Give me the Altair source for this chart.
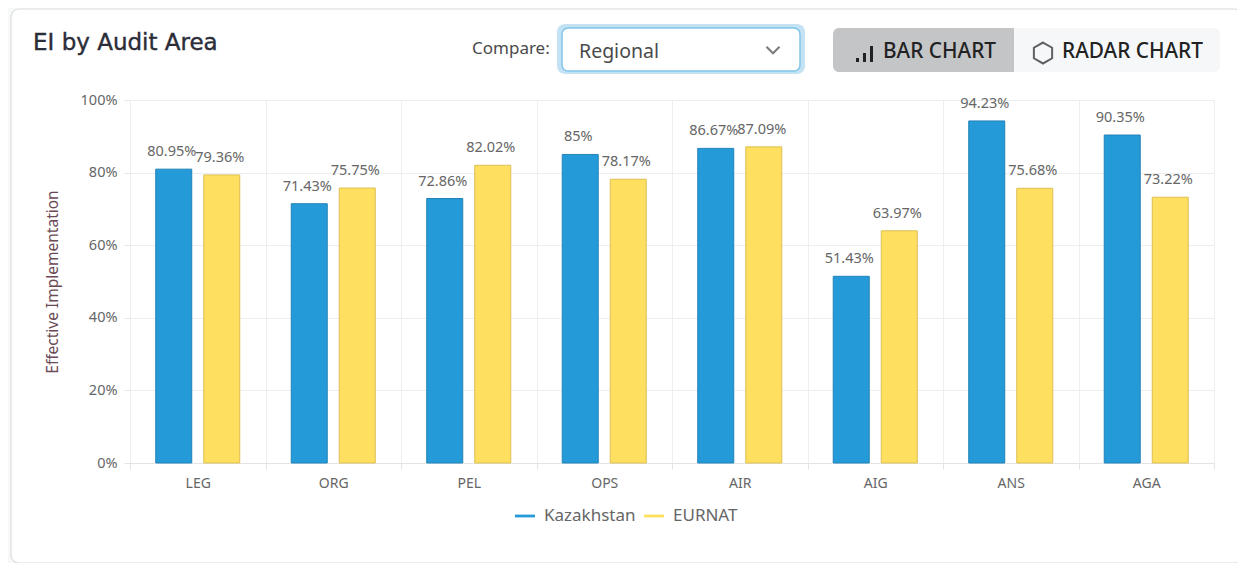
import altair as alt
import pandas as pd

areas = ["LEG", "ORG", "PEL", "OPS", "AIR", "AIG", "ANS", "AGA"]
kazakhstan = [80.95, 71.43, 72.86, 85, 86.67, 51.43, 94.23, 90.35]
eurnat = [79.36, 75.75, 82.02, 78.17, 87.09, 63.97, 75.68, 73.22]
series = ["Kazakhstan", "EURNAT"]
colors = ["#259ad8", "#fedf5f"]
borders = ["#2283b8", "#dcbf55"]

rows = [{"area": a, "series": series[0], "value": v} for a, v in zip(areas, kazakhstan)] + \
       [{"area": a, "series": series[1], "value": v} for a, v in zip(areas, eurnat)]
df = pd.DataFrame(rows)

FONT = "Noto Sans"
OX, OY = 130, 100  # plot origin in page pixels
W, H = 1084, 363
TOTAL_W, TOTAL_H = 1229, 555
PAD_L, PAD_T = OX - 8, OY - 8
one = alt.Data(values=[{"k": 1}])


def box(x1, y1, x2, y2, **kw):
    return alt.Chart(one).mark_rect(**kw).encode(
        x=alt.value(x1 - OX), x2=alt.value(x2 - OX),
        y=alt.value(y1 - OY), y2=alt.value(y2 - OY))


def label(text, x, y, **kw):
    base = dict(font=FONT, align="left", baseline="middle", text=text)
    base.update(kw)
    return alt.Chart(one).mark_text(**base).encode(x=alt.value(x - OX), y=alt.value(y - OY))


def glyph(path, x, y, size, **kw):
    return alt.Chart(one).mark_point(shape=path, size=size, **kw).encode(
        x=alt.value(x - OX), y=alt.value(y - OY))


chrome = [
    box(-9, -11, 1262, 583, fillOpacity=0, stroke="#f7f8f8", strokeWidth=40, cornerRadius=28),
    box(11, 9, 1242, 563, fillOpacity=0, stroke="#dcdcdc", strokeWidth=1.2, cornerRadius=8),
    label("EI by Audit Area", 33, 43, font="DejaVu Sans", fontSize=23, color="#2b2d38",
          stroke="#2b2d38", strokeWidth=0.4),
    label("Compare:", 472, 49, fontSize=17, color="#4a4a4a"),
    box(557, 24, 805, 74, fill="#c3e3f5", cornerRadius=8),
    box(562, 28, 800, 71, fill="#ffffff", stroke="#82c5ea", strokeWidth=1.5, cornerRadius=6),
    label("Regional", 579, 52, fontSize=19.5, color="#4a4a4a"),
    glyph("M-1,-0.5L0,0.5L1,-0.5", 773, 50, 170, filled=False, stroke="#444444", strokeWidth=2),
    box(833, 28, 1014, 72, fill="#c4c5c7", cornerRadiusTopLeft=6, cornerRadiusBottomLeft=6),
    box(1014, 28, 1220, 72, fill="#f6f7f9", cornerRadiusTopRight=6, cornerRadiusBottomRight=6),
    box(856, 58, 859, 62, fill="#222222"),
    box(863, 53, 866, 62, fill="#222222"),
    box(870, 46, 873, 62, fill="#222222"),
    label("BAR CHART", 883, 52, fontSize=20.8, fontWeight=500, color="#222222"),
    glyph("M0,-1L0.87,-0.5L0.87,0.5L0,1L-0.87,0.5L-0.87,-0.5Z", 1043, 53, 440,
          filled=False, stroke="#222222", strokeWidth=2),
    label("RADAR CHART", 1062, 52, fontSize=20.8, fontWeight=500, color="#222222"),
]

x_enc = alt.X("area:N", sort=areas, title=None,
              scale=alt.Scale(paddingInner=0, paddingOuter=0),
              axis=alt.Axis(tickBand="extent", grid=True, gridColor="#eeeeee", domainColor="#e4e4e4",
                            tickColor="#e4e4e4", tickSize=6, labelAngle=0, labelFont=FONT, labelFontSize=14,
                            labelColor="#666666", labelPadding=7))
y_enc = alt.Y("value:Q", title="Effective Implementation",
              scale=alt.Scale(domain=[0, 100], nice=False),
              axis=alt.Axis(values=[0, 20, 40, 60, 80, 100], labelExpr="datum.value + '%'", gridColor="#eeeeee",
                            domain=False, tickColor="#e4e4e4", tickSize=6, labelFont=FONT, labelFontSize=14.5,
                            labelColor="#666666", labelPadding=7, titleFont=FONT, titleFontSize=15.5,
                            titleFontWeight="normal", titleColor="#6b4a55", titlePadding=20))
off_enc = alt.XOffset("series:N", sort=series,
                      scale=alt.Scale(domain=series, paddingInner=0.25, paddingOuter=0.536))

bars = alt.Chart(df).mark_bar(strokeWidth=1).encode(
    x=x_enc, y=y_enc, xOffset=off_enc,
    color=alt.Color("series:N", sort=series, title=None,
                    scale=alt.Scale(domain=series, range=colors),
                    legend=alt.Legend(orient="none", legendX=515 - OX, legendY=506 - OY, direction="horizontal",
                                      symbolType="M-1,-0.14H1V0.14H-1Z", symbolSize=400, symbolOpacity=1,
                                      labelFont=FONT, labelFontSize=17, labelColor="#666666",
                                      columnPadding=8, labelOffset=9, symbolStrokeWidth=0)),
    stroke=alt.Stroke("series:N", sort=series, scale=alt.Scale(domain=series, range=borders), legend=None),
)

texts = alt.Chart(df).transform_calculate(
    lab="format(datum.value, '.2~f') + '%'"
).mark_text(font=FONT, fontSize=14.5, color="#666666", dy=-17, dx=-2).encode(
    x=alt.X("area:N", sort=areas), y=alt.Y("value:Q"), xOffset=off_enc, text="lab:N")

chart = alt.layer(*chrome, bars, texts).properties(
    width=W, height=H, background="#ffffff",
    autosize=alt.AutoSizeParams(type="none"),
    padding={"left": PAD_L, "top": PAD_T, "right": TOTAL_W - PAD_L - W, "bottom": TOTAL_H - PAD_T - H},
).configure_view(stroke=None)

chart.save("out.html", embed_options={"renderer": "svg", "actions": False})
